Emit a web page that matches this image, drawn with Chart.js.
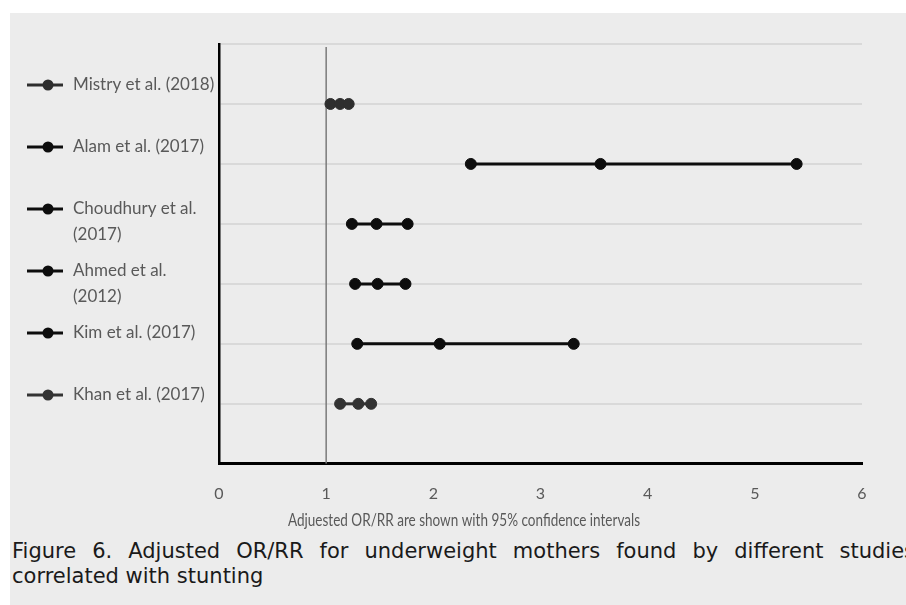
<!DOCTYPE html>
<html>
<head>
<meta charset="utf-8">
<script src="https://cdn.jsdelivr.net/npm/chart.js@4.4.1/dist/chart.umd.min.js"></script>
<style>
  html, body { margin: 0; padding: 0; background: #fff; width: 906px; height: 605px; overflow: hidden; }
  #panel { position: absolute; left: 10px; top: 13px; width: 896px; height: 592px; background: #ececec; }
  #chart { position: absolute; left: 0; top: 0; }
  .cap { position: absolute; left: 12px; font-family: "DejaVu Sans", Verdana, sans-serif; font-size: 21px; color: #1a1a1a; white-space: nowrap; }
  #cap1 { top: 539px; width: 903px; white-space: normal; text-align: justify; text-align-last: justify; }
  #cap2 { top: 564px; }
</style>
</head>
<body>
<div id="panel"></div>
<canvas id="chart" width="906" height="535"></canvas>
<div class="cap" id="cap1">Figure 6. Adjusted OR/RR for underweight mothers found by different studies</div>
<div class="cap" id="cap2">correlated with stunting</div>
<script>
// studies, top to bottom
const studies = ['Mistry et al. (2018)', 'Alam et al. (2017)', 'Choudhury et al. (2017)', 'Ahmed et al. (2012)', 'Kim et al. (2017)', 'Khan et al. (2017)'];
// how each legend label wraps
const legendLines = [['Mistry et al. (2018)'], ['Alam et al. (2017)'], ['Choudhury et al.', '(2017)'], ['Ahmed et al.', '(2012)'], ['Kim et al. (2017)'], ['Khan et al. (2017)']];
const lower = [1.04, 2.35, 1.24, 1.27, 1.29, 1.13];
const estimate = [1.13, 3.56, 1.47, 1.48, 2.06, 1.30];
const upper = [1.21, 5.39, 1.76, 1.74, 3.31, 1.42];
const seriesColors = ['#2e2e2e', '#0d0d0d', '#0d0d0d', '#0d0d0d', '#0d0d0d', '#333333'];
const xTicks = [0, 1, 2, 3, 4, 5, 6];
const nullLine = 1;
const xTitle = 'Adjuested OR/RR are shown with 95% confidence intervals';

const datasets = studies.map((name, i) => ({
    label: name,
    data: [{ x: lower[i], y: i + 1 }, { x: estimate[i], y: i + 1 }, { x: upper[i], y: i + 1 }],
    showLine: true,
    borderColor: seriesColors[i],
    backgroundColor: seriesColors[i],
    borderWidth: 3,
    pointRadius: 5.5,
    pointBorderWidth: 1,
    pointBorderColor: seriesColors[i],
    clip: false
}));

// vertical no-effect line at OR = 1
datasets.push({
    label: 'ref',
    data: [{ x: nullLine, y: 0.05 }, { x: nullLine, y: studies.length + 1 }],
    showLine: true,
    borderColor: '#7a7a7a',
    borderWidth: 1.5,
    pointRadius: 0
});

// legend down the left side + axis title (Excel puts it off-centre)
const sideLegend = {
    id: 'sideLegend',
    afterDraw(chart) {
        const ctx = chart.ctx;
        ctx.save();
        ctx.textBaseline = 'middle';
        legendLines.forEach((lines, i) => {
            const y = 85 + 62 * i;
            ctx.strokeStyle = seriesColors[i];
            ctx.fillStyle = seriesColors[i];
            ctx.lineWidth = 3;
            ctx.beginPath();
            ctx.moveTo(27, y);
            ctx.lineTo(63, y);
            ctx.stroke();
            ctx.beginPath();
            ctx.arc(48, y, 5.5, 0, Math.PI * 2);
            ctx.fill();
            ctx.fillStyle = '#595959';
            ctx.font = '17px Lato';
            lines.forEach((t, k) => ctx.fillText(t, 73, y + k * 26));
        });
        ctx.fillStyle = '#595959';
        ctx.font = '18px Lato';
        ctx.textAlign = 'center';
        ctx.fillText(xTitle, 464, 520, 352);
        ctx.restore();
    }
};

new Chart(document.getElementById('chart'), {
    type: 'scatter',
    data: { datasets },
    options: {
        responsive: false,
        animation: false,
        layout: { padding: { left: 219, right: 44, top: 44, bottom: 12 } },
        plugins: { legend: { display: false }, tooltip: { enabled: false } },
        scales: {
            x: {
                type: 'linear',
                min: 0,
                max: 6,
                afterBuildTicks: (axis) => { axis.ticks = xTicks.map(v => ({ value: v })); },
                grid: { display: false, drawTicks: false },
                border: { color: '#000', width: 3 },
                ticks: { color: '#595959', font: { family: 'Lato', size: 16 }, padding: 20 }
            },
            y: {
                type: 'linear',
                reverse: true,
                min: 0,
                max: studies.length + 1,
                ticks: { display: false, stepSize: 1 },
                grid: { color: '#d9d9d9', lineWidth: 2, drawTicks: false },
                border: { color: '#000', width: 2.5 }
            }
        }
    },
    plugins: [sideLegend]
});
</script>
</body>
</html>
